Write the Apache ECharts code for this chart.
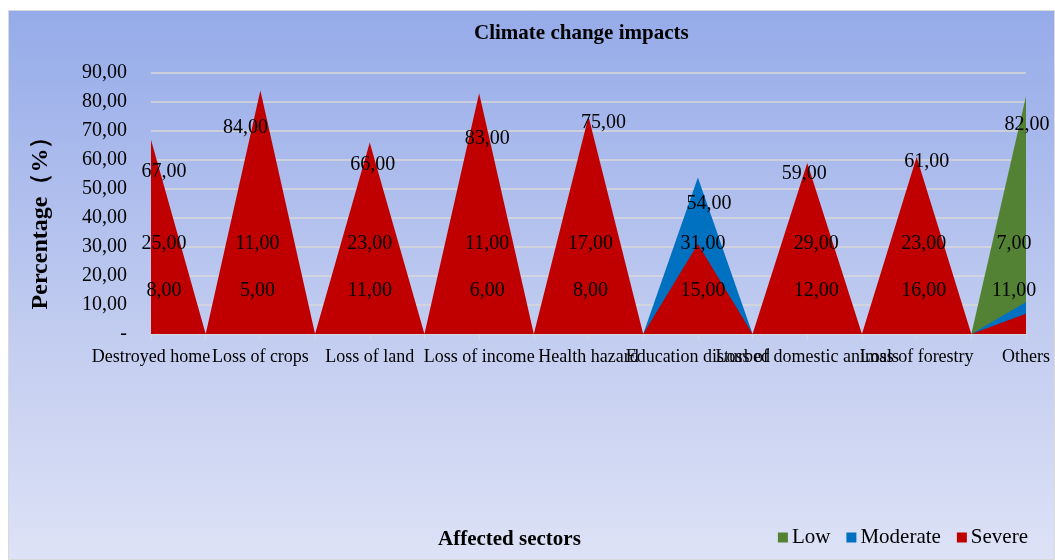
<!DOCTYPE html>
<html>
<head>
<meta charset="utf-8">
<script src="https://cdn.jsdelivr.net/npm/echarts@6/dist/echarts.min.js"></script>
<style>
  html, body { margin: 0; padding: 0; background: #fff; }
  #chart { width: 1055px; height: 560px; }
</style>
</head>
<body>
<div id="chart"></div>
<script>
  const sectors = ['Destroyed home', 'Loss of crops', 'Loss of land', 'Loss of income', 'Health hazard',
    'Education disturbed', 'Loss of domestic animals', 'Loss of forestry', 'Others']
  const low = [8, 5, 11, 6, 8, 15, 12, 16, 82]
  const moderate = [25, 11, 23, 11, 17, 54, 29, 23, 11]
  const severe = [67, 84, 66, 83, 75, 31, 59, 61, 7]
  const gapValue = 0

  const FONT = 'Liberation Serif'
  const gridTop = 73
  const gridBottom = 226
  const yMax = 90
  const pxPerUnit = (560 - gridTop - gridBottom) / yMax

  // label nudges (pixels) so the labels sit where the spreadsheet put them
  const topShiftX = [13, -15, 3, 8, 15, 11, -3, 10, 1]
  const topShiftY = [32, 37, 22, 45, 6, 26, 11, 5, 29]
  const lowShiftX = [13, -3, 0, 8, 2, 5, 9, 7, -12]

  // every sector is a peak with a zero point between neighbours
  const categories = []
  sectors.forEach((s, i) => {
    if (i > 0) categories.push('')
    categories.push(s)
  })

  const byName = { Severe: severe, Moderate: moderate, Low: low }
  const order = ['Severe', 'Moderate', 'Low']

  // largest value goes on top, the other two sit on two fixed rows
  function labelOffset(name, i) {
    let top = order[0]
    order.forEach(k => { if (byName[k][i] > byName[top][i]) top = k })
    if (name === top) return [topShiftX[i], topShiftY[i]]
    const rest = order.filter(k => k !== top)
    const level = rest.indexOf(name) === 0 ? 31 : 15
    return [lowShiftX[i], (byName[name][i] - level) * pxPerUnit]
  }

  function buildData(name) {
    const values = byName[name]
    const out = []
    values.forEach((v, i) => {
      if (i > 0) out.push({ value: gapValue, label: { show: false } })
      out.push({ value: v, label: { show: true, offset: labelOffset(name, i) } })
    })
    return out
  }

  function areaSeries(name, color) {
    return {
      name: name,
      type: 'line',
      data: buildData(name),
      symbol: 'circle',
      symbolSize: 0,
      showSymbol: true,
      showAllSymbol: true,
      lineStyle: { width: 0 },
      itemStyle: { color: color },
      areaStyle: { color: color, opacity: 1 },
      label: {
        position: 'inside',
        fontFamily: FONT,
        fontSize: 20,
        color: '#000',
        formatter: p => p.value.toFixed(2).replace('.', ',')
      },
      emphasis: { disabled: true }
    }
  }

  const chart = echarts.init(document.getElementById('chart'))
  chart.setOption({
    animation: false,
    textStyle: { fontFamily: FONT },
    graphic: {
      elements: [{
        type: 'rect',
        z: -10,
        silent: true,
        shape: { x: 8.5, y: 10.5, width: 1046, height: 549 },
        style: {
          fill: new echarts.graphic.LinearGradient(0, 0, 0, 1, [
            { offset: 0, color: '#95abe9' },
            { offset: 0.6, color: '#c3cdf0' },
            { offset: 1, color: '#dde2f6' }
          ]),
          stroke: '#d9d9d9',
          lineWidth: 1
        }
      }]
    },
    title: [{
      text: 'Climate change impacts',
      left: 469,
      top: 18,
      textStyle: { fontFamily: FONT, fontSize: 21, fontWeight: 'bold', color: '#000' }
    }, {
      text: 'Affected sectors',
      left: 433,
      top: 524,
      textStyle: { fontFamily: FONT, fontSize: 21, fontWeight: 'bold', color: '#000' }
    }],
    legend: {
      data: ['Low', 'Moderate', 'Severe'],
      right: 22,
      top: 522,
      icon: 'rect',
      itemWidth: 10,
      itemHeight: 10,
      itemGap: 16,
      textStyle: { fontFamily: FONT, fontSize: 21, color: '#000', padding: [0, 0, 0, -1] }
    },
    grid: { left: 151, right: 29, top: gridTop, bottom: gridBottom },
    xAxis: {
      type: 'category',
      boundaryGap: false,
      data: categories,
      axisLine: { lineStyle: { color: '#d9d9d9', width: 1.5 } },
      axisTick: { show: true, interval: 0, length: 5, lineStyle: { color: '#d9d9d9' } },
      axisLabel: { interval: 0, fontFamily: FONT, fontSize: 18, color: '#000', margin: 14 }
    },
    yAxis: {
      type: 'value',
      min: 0,
      max: yMax,
      interval: 10,
      name: 'Percentage（%）',
      nameLocation: 'middle',
      nameRotate: 90,
      nameGap: 98,
      nameTextStyle: { fontFamily: FONT, fontSize: 24, fontWeight: 'bold', color: '#000', padding: [0, 0, 0, -27] },
      axisLine: { show: false },
      axisTick: { show: false },
      splitLine: { lineStyle: { color: '#d9d9d9', width: 1.5 } },
      axisLabel: {
        fontFamily: FONT,
        fontSize: 20,
        color: '#000',
        margin: 24,
        formatter: v => v === 0 ? '-' : v.toFixed(2).replace('.', ',')
      }
    },
    series: [
      areaSeries('Low', '#548235'),
      areaSeries('Moderate', '#0070c0'),
      areaSeries('Severe', '#c00000')
    ]
  })
</script>
</body>
</html>
